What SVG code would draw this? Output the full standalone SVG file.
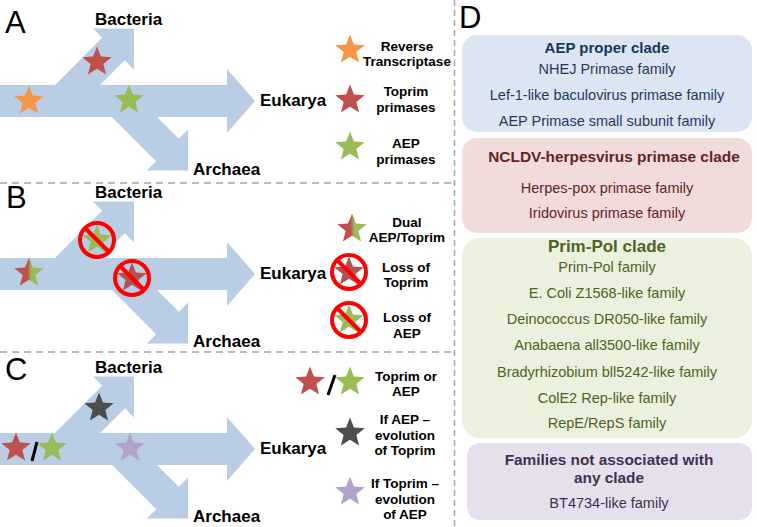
<svg xmlns="http://www.w3.org/2000/svg" width="757" height="527" viewBox="0 0 757 527">
<style>
.lbl{font-family:"Liberation Sans",Arial,sans-serif;font-weight:bold;font-size:17px;fill:#000}
.pl{font-family:"Liberation Sans",Arial,sans-serif;font-size:31px;fill:#000}
.lg{font-family:"Liberation Sans",Arial,sans-serif;font-weight:bold;font-size:13.5px;fill:#000;text-anchor:middle}
.sep{stroke:#a6a6a6;stroke-width:1.5;fill:none}
.tree{fill:#b9cde5}
.no{fill:none;stroke:#ff0000;stroke-width:4}
.bt{font-family:"Liberation Sans",Arial,sans-serif;font-weight:bold;text-anchor:middle}
.it{font-family:"Liberation Sans",Arial,sans-serif;font-size:14.5px;text-anchor:middle}
.sl{stroke:#000;stroke-width:3}
</style>
<defs>
<path id="tree" d="M0,85 L55,85 L102.2,37.7 L93,28.5 L134,28.5 L134,69.5 L124.8,60.3 L100,85 L227,85 L227,69 L255,101 L227,133 L227,117 L157,117 L178.8,138.7 L188,129.5 L188,170.5 L147,170.5 L156.2,161.3 L112,117 L0,117 Z"/>
<path id="star" d="M0,-15.5 L3.93,-5.41 L14.74,-4.79 L6.36,2.07 L9.11,12.54 L0,6.7 L-9.11,12.54 L-6.36,2.07 L-14.74,-4.79 L-3.93,-5.41 Z"/>
<linearGradient id="dual" x1="0" y1="0" x2="1" y2="0">
<stop offset="0.45" stop-color="#c0504d"/>
<stop offset="0.58" stop-color="#9bbb59"/>
</linearGradient>
<g id="ban">
<circle cx="0" cy="0" r="17" class="no"/>
<line x1="-12" y1="-12" x2="12" y2="12" class="no"/>
</g>
</defs>

<!-- separators -->
<g id="separators">
<line x1="0" y1="183" x2="453" y2="183" class="sep" stroke-dasharray="7,5"/>
<line x1="0" y1="352" x2="453" y2="352" class="sep" stroke-dasharray="7,5"/>
<line x1="454.5" y1="0" x2="454.5" y2="527" class="sep" stroke-dasharray="6,4"/>
</g>

<!-- Panel A -->
<g id="panelA">
<text x="5" y="33" class="pl">A</text>
<use href="#tree" class="tree"/>
<text x="95" y="25" class="lbl">Bacteria</text>
<text x="260" y="106" class="lbl">Eukarya</text>
<text x="193" y="175" class="lbl">Archaea</text>
<use href="#star" x="29" y="101" fill="#f79646"/>
<use href="#star" x="97" y="62" fill="#c0504d"/>
<use href="#star" x="129" y="100" fill="#9bbb59"/>
</g>
<g id="legendA">
<use href="#star" x="350" y="50" fill="#f79646"/>
<text x="407" y="51" class="lg">Reverse</text>
<text x="407" y="66" class="lg">Transcriptase</text>
<use href="#star" x="350" y="100" fill="#c0504d"/>
<text x="406" y="96" class="lg">Toprim</text>
<text x="406" y="111.5" class="lg">primases</text>
<use href="#star" x="350" y="147" fill="#9bbb59"/>
<text x="406" y="148" class="lg">AEP</text>
<text x="406" y="163.5" class="lg">primases</text>
</g>

<!-- Panel B -->
<g id="panelB">
<text x="6" y="208" class="pl">B</text>
<use href="#tree" class="tree" y="173"/>
<text x="95" y="198" class="lbl">Bacteria</text>
<text x="260" y="279" class="lbl">Eukarya</text>
<text x="193" y="347" class="lbl">Archaea</text>
<use href="#star" x="29" y="273" fill="url(#dual)"/>
<use href="#star" x="97" y="240" fill="#9bbb59"/>
<use href="#ban" x="97" y="240"/>
<use href="#star" x="132" y="278" fill="#b5504d"/>
<use href="#ban" x="132" y="278"/>
</g>
<g id="legendB">
<use href="#star" x="352" y="229" fill="url(#dual)"/>
<text x="407" y="227" class="lg">Dual</text>
<text x="407" y="242" class="lg">AEP/Toprim</text>
<use href="#star" x="349" y="272" fill="#b5504d"/>
<use href="#ban" x="349" y="272"/>
<text x="406" y="272" class="lg">Loss of</text>
<text x="406" y="287" class="lg">Toprim</text>
<use href="#star" x="349" y="320" fill="#9bbb59"/>
<use href="#ban" x="349" y="320"/>
<text x="407" y="322" class="lg">Loss of</text>
<text x="407" y="337.5" class="lg">AEP</text>
</g>

<!-- Panel C -->
<g id="panelC">
<text x="5" y="380" class="pl">C</text>
<use href="#tree" class="tree" y="348"/>
<text x="95" y="373" class="lbl">Bacteria</text>
<text x="260" y="454" class="lbl">Eukarya</text>
<text x="193" y="522" class="lbl">Archaea</text>
<use href="#star" x="16" y="448" fill="#c0504d"/>
<line x1="37" y1="442" x2="32" y2="461" class="sl"/>
<use href="#star" x="52" y="448" fill="#9bbb59"/>
<use href="#star" x="99" y="408" fill="#4d4d4d"/>
<use href="#star" x="130" y="448" fill="#b3a2c7"/>
</g>
<g id="legendC">
<use href="#star" x="310" y="382" fill="#c0504d"/>
<line x1="335" y1="375" x2="328" y2="395" class="sl"/>
<use href="#star" x="350" y="382" fill="#9bbb59"/>
<text x="406" y="381" class="lg">Toprim or</text>
<text x="406" y="396" class="lg">AEP</text>
<use href="#star" x="350" y="433" fill="#4d4d4d"/>
<text x="405" y="424" class="lg">If AEP –</text>
<text x="405" y="440" class="lg">evolution</text>
<text x="405" y="455" class="lg">of Toprim</text>
<use href="#star" x="350" y="492" fill="#b3a2c7"/>
<text x="405" y="488" class="lg">If Toprim –</text>
<text x="405" y="503.5" class="lg">evolution</text>
<text x="405" y="519" class="lg">of AEP</text>
</g>

<!-- Panel D -->
<text x="459" y="28" class="pl">D</text>
<g id="aep-proper">
<rect x="462" y="35" width="290" height="97" rx="15" fill="#dce6f2"/>
<text x="607" y="53" class="bt" font-size="15" fill="#17375e">AEP proper clade</text>
<text x="607" y="74" class="it" fill="#1f3a60">NHEJ Primase family</text>
<text x="607" y="100" class="it" fill="#1f3a60">Lef-1-like baculovirus primase family</text>
<text x="607" y="125.5" class="it" fill="#1f3a60">AEP Primase small subunit family</text>
</g>
<g id="ncldv">
<rect x="462" y="138" width="290" height="95" rx="15" fill="#f2dcdb"/>
<text x="614" y="162" class="bt" font-size="15.4" fill="#632523">NCLDV-herpesvirus primase clade</text>
<text x="607" y="193" class="it" fill="#632523">Herpes-pox primase family</text>
<text x="607" y="218" class="it" fill="#632523">Iridovirus primase family</text>
</g>
<g id="primpol">
<rect x="462" y="238" width="290" height="200" rx="18" fill="#ebf1de"/>
<text x="607" y="252" class="bt" font-size="17" fill="#4f6228">Prim-Pol clade</text>
<text x="607" y="272" class="it" fill="#4f6228">Prim-Pol family</text>
<text x="607" y="298" class="it" fill="#4f6228">E. Coli Z1568-like family</text>
<text x="607" y="324" class="it" fill="#4f6228">Deinococcus DR050-like family</text>
<text x="607" y="350" class="it" fill="#4f6228">Anabaena all3500-like family</text>
<text x="607" y="376.5" class="it" fill="#4f6228">Bradyrhizobium bll5242-like family</text>
<text x="607" y="402.5" class="it" fill="#4f6228">ColE2 Rep-like family</text>
<text x="607" y="428" class="it" fill="#4f6228">RepE/RepS family</text>
</g>
<g id="unassociated">
<rect x="467" y="443" width="285" height="77" rx="13" fill="#e6e0ec"/>
<text x="609" y="465" class="bt" font-size="15.4" fill="#3f3151">Families not associated with</text>
<text x="609" y="483" class="bt" font-size="15.4" fill="#3f3151">any clade</text>
<text x="609" y="508" class="it" fill="#3f3151">BT4734-like family</text>
</g>
</svg>
